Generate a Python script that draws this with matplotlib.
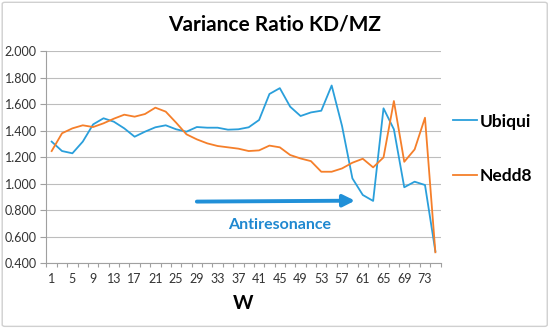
import numpy as np
import matplotlib
matplotlib.use('Agg')
import matplotlib.pyplot as plt
from matplotlib.patches import FancyBboxPatch

# W values (odd steps) and the two variance ratio series
w_values = list(range(1, 76, 2))
ubiqui = [1.317, 1.246, 1.229, 1.317, 1.447, 1.493, 1.467, 1.417, 1.354, 1.392,
          1.425, 1.440, 1.410, 1.392, 1.427, 1.422, 1.422, 1.407, 1.410, 1.425,
          1.480, 1.676, 1.720, 1.580, 1.510, 1.537, 1.550, 1.740, 1.435, 1.040,
          0.915, 0.870, 1.568, 1.410, 0.973, 1.015, 0.990, 0.490]
nedd8 = [1.246, 1.380, 1.417, 1.440, 1.427, 1.455, 1.490, 1.520, 1.505, 1.525,
         1.573, 1.543, 1.460, 1.372, 1.334, 1.304, 1.284, 1.274, 1.264, 1.246,
         1.251, 1.287, 1.274, 1.216, 1.190, 1.170, 1.090, 1.090, 1.115, 1.158,
         1.188, 1.123, 1.198, 1.623, 1.165, 1.258, 1.497, 0.483]
x_labels = list(range(1, 74, 4))
y_ticks = [0.4, 0.6, 0.8, 1.0, 1.2, 1.4, 1.6, 1.8, 2.0]

arrow_start = (29, 0.865)
arrow_end = (59.5, 0.872)

BLUE = '#2A9FDB'
ORANGE = '#F57F2A'
FONT = 'Lato'

fig = plt.figure(figsize=(5.5, 3.29), dpi=100)
fig.patch.set_facecolor('white')

# chart border like the spreadsheet frame
border = FancyBboxPatch((0.004, 0.008), 0.991, 0.985, boxstyle='round,pad=0,rounding_size=0.005',
                        transform=fig.transFigure, fill=False, edgecolor='#d0d0d0', lw=1.0)
fig.patches.append(border)

ax = fig.add_axes([0.0845, 0.1997, 0.7165, 0.6453])

ax.plot(w_values, ubiqui, '-', color=BLUE, lw=1.3, label='Ubiqui')
ax.plot(w_values, nedd8, '-', color=ORANGE, lw=1.3, label='Nedd8')

ax.set_xlim(0, 76)
ax.set_ylim(0.4, 2.0)
ax.set_yticks(y_ticks)
ax.set_yticklabels([f'{v:.3f}' for v in y_ticks], fontsize=9, family=FONT, color='#333333')
ax.set_xticks(x_labels)
ax.set_xticklabels([str(v) for v in x_labels], fontsize=9, family=FONT, color='#333333')
ax.set_xticks(np.arange(0, 77, 2), minor=True)
ax.tick_params(axis='x', which='major', length=0, pad=7)
ax.tick_params(axis='x', which='minor', length=3, color='#a0a0a0', width=0.8)
ax.tick_params(axis='y', length=4, color='#a0a0a0', width=0.8, pad=3)

ax.grid(axis='y', color='#bdbdbd', lw=0.8)
ax.set_axisbelow(True)
for side in ['top', 'right']:
    ax.spines[side].set_visible(False)
for side in ['left', 'bottom']:
    ax.spines[side].set_color('#a0a0a0')
    ax.spines[side].set_linewidth(0.8)

ax.set_xlabel('W', fontsize=14, fontweight='bold', family=FONT, labelpad=7)

# antiresonance arrow and label
ax.annotate('', xy=arrow_end, xytext=arrow_start,
            arrowprops=dict(arrowstyle='-|>,head_length=0.7,head_width=0.35',
                            color='#2190D8', lw=2.8, shrinkA=0, shrinkB=0))
ax.text(45, 0.69, 'Antiresonance', color='#1F88D0', fontsize=11.5, fontweight='bold',
        family=FONT, ha='center', va='center')

fig.text(0.499, 0.927, 'Variance Ratio KD/MZ', fontsize=15, fontweight='bold',
         family=FONT, ha='center', va='center')

leg = fig.legend(loc='upper left', bbox_to_anchor=(0.824, 0.655), frameon=False,
                 prop={'family': FONT, 'weight': 'bold', 'size': 12.5},
                 borderpad=0, borderaxespad=0,
                 handlelength=1.35, handletextpad=0.2, labelspacing=2.2)

fig.savefig('out.png', dpi=100)
